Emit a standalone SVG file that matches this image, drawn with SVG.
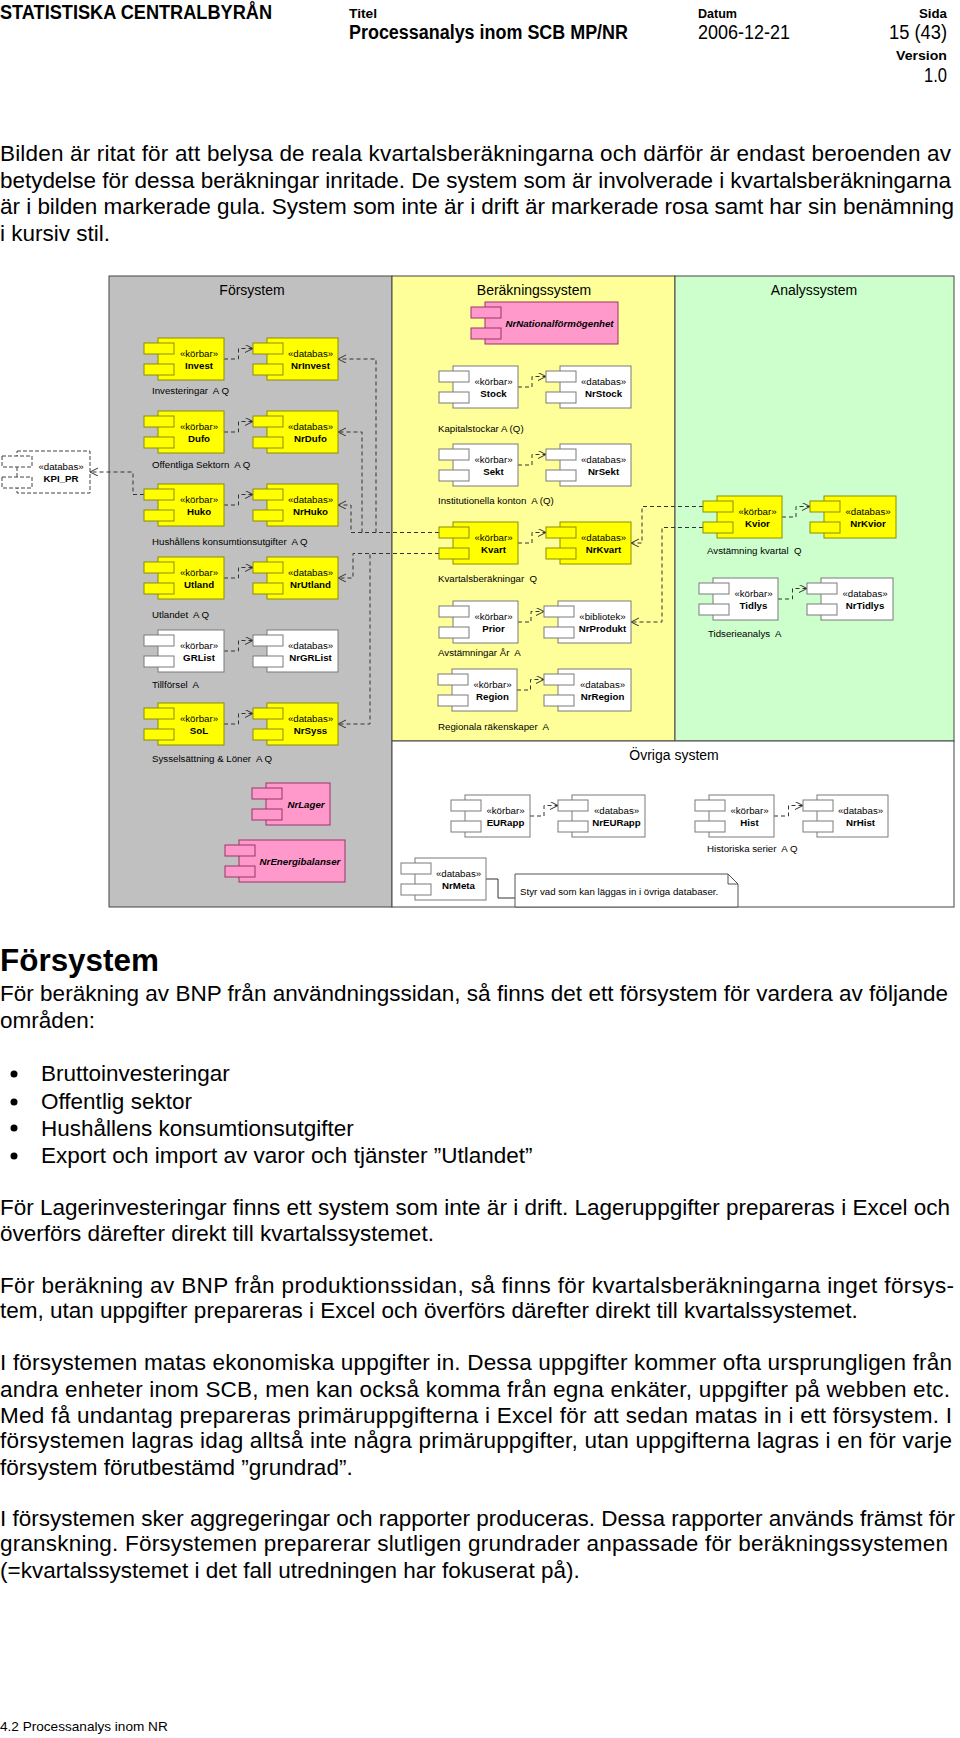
<svg xmlns="http://www.w3.org/2000/svg" width="960" height="1738" viewBox="0 0 960 1738">
<defs>
<marker id="ah" markerUnits="userSpaceOnUse" markerWidth="10" markerHeight="10" refX="8" refY="4" orient="auto">
<path d="M0,0 L8,4 L0,8" fill="none" stroke="#333" stroke-width="1"/>
</marker>
<style>
text{font-family:"Liberation Sans",Arial,sans-serif;fill:#000}
.hb{font-weight:bold}
.st{font-size:9.7px;text-anchor:middle}
.nm{font-size:9.7px;font-weight:bold;text-anchor:middle}
.ni{font-size:9.7px;font-weight:bold;font-style:italic;text-anchor:middle}
.lb{font-size:9.7px;white-space:pre}
.pt{font-size:14px;text-anchor:middle}
.bd{font-size:22.5px}
.y{fill:#FFFF00;stroke:#8C8C00;stroke-width:1}
.w{fill:#FFFFFF;stroke:#7A7A7A;stroke-width:1}
.p{fill:#FF99CC;stroke:#993366;stroke-width:1}
.k{fill:#FFFFFF;stroke:#444;stroke-width:1;stroke-dasharray:4,2}
.c{fill:none;stroke:#333;stroke-width:1;stroke-dasharray:4,3;marker-end:url(#ah)}
.pan{stroke:#444;stroke-width:1}
</style>
</defs>
<rect width="960" height="1738" fill="#fff"/>

<g id="header">
<text x="0" y="19" class="hb" font-size="20" textLength="272" lengthAdjust="spacingAndGlyphs">STATISTISKA CENTRALBYRÅN</text>
<text x="349" y="17.5" class="hb" font-size="12.3" textLength="28" lengthAdjust="spacingAndGlyphs">Titel</text>
<text x="349" y="39" class="hb" font-size="20" textLength="279" lengthAdjust="spacingAndGlyphs">Processanalys inom SCB MP/NR</text>
<text x="698" y="17.5" class="hb" font-size="12.3" textLength="39" lengthAdjust="spacingAndGlyphs">Datum</text>
<text x="698" y="39" font-size="20" textLength="92" lengthAdjust="spacingAndGlyphs">2006-12-21</text>
<text x="947" y="17.5" class="hb" font-size="12.3" text-anchor="end" textLength="28" lengthAdjust="spacingAndGlyphs">Sida</text>
<text x="947" y="39" font-size="20" text-anchor="end" textLength="58" lengthAdjust="spacingAndGlyphs">15 (43)</text>
<text x="947" y="60" class="hb" font-size="12.3" text-anchor="end" textLength="51" lengthAdjust="spacingAndGlyphs">Version</text>
<text x="947" y="82" font-size="20" text-anchor="end" textLength="23" lengthAdjust="spacingAndGlyphs">1.0</text>
</g>

<g id="intro">
<text class="bd" x="0" y="161" textLength="951" lengthAdjust="spacing">Bilden är ritat för att belysa de reala kvartalsberäkningarna och därför är endast beroenden av</text>
<text class="bd" x="0" y="187.5" textLength="951" lengthAdjust="spacing">betydelse för dessa beräkningar inritade. De system som är involverade i kvartalsberäkningarna</text>
<text class="bd" x="0" y="214" textLength="954" lengthAdjust="spacing">är i bilden markerade gula. System som inte är i drift är markerade rosa samt har sin benämning</text>
<text class="bd" x="0" y="240.5">i kursiv stil.</text>
</g>

<g id="panels">
<rect class="pan" x="109" y="276" width="283" height="631" fill="#C0C0C0"/>
<rect class="pan" x="392" y="276" width="283" height="465" fill="#FFFF99"/>
<rect class="pan" x="675" y="276" width="279" height="465" fill="#CCFFCC"/>
<rect class="pan" x="392" y="741" width="562" height="166" fill="#FFFFFF"/>
<text class="pt" x="252" y="295">Försystem</text>
<text class="pt" x="534" y="295">Beräkningssystem</text>
<text class="pt" x="814" y="295">Analyssystem</text>
<text class="pt" x="674" y="760">Övriga system</text>
</g>

<g id="labels">
<text class="lb" x="152" y="394" xml:space="preserve">Investeringar  A Q</text>
<text class="lb" x="152" y="468" xml:space="preserve">Offentliga Sektorn  A Q</text>
<text class="lb" x="152" y="545" xml:space="preserve">Hushållens konsumtionsutgifter  A Q</text>
<text class="lb" x="152" y="618" xml:space="preserve">Utlandet  A Q</text>
<text class="lb" x="152" y="688" xml:space="preserve">Tillförsel  A</text>
<text class="lb" x="152" y="762" xml:space="preserve">Sysselsättning &amp; Löner  A Q</text>
<text class="lb" x="438" y="431.5" xml:space="preserve">Kapitalstockar A (Q)</text>
<text class="lb" x="438" y="503.5" xml:space="preserve">Institutionella konton  A (Q)</text>
<text class="lb" x="438" y="581.5" xml:space="preserve">Kvartalsberäkningar  Q</text>
<text class="lb" x="438" y="655.5" xml:space="preserve">Avstämningar År  A</text>
<text class="lb" x="438" y="729.5" xml:space="preserve">Regionala räkenskaper  A</text>
<text class="lb" x="707" y="553.5" xml:space="preserve">Avstämning kvartal  Q</text>
<text class="lb" x="708" y="636.5" xml:space="preserve">Tidserieanalys  A</text>
<text class="lb" x="707" y="851.5" xml:space="preserve">Historiska serier  A Q</text>
</g>

<g id="connectors">
<path class="c" d="M224,359 H238.5 V348.5 H253"/>
<path class="c" d="M224,432 H238.5 V421.5 H253"/>
<path class="c" d="M224,505 H238.5 V494.5 H253"/>
<path class="c" d="M224,578 H238.5 V567.5 H253"/>
<path class="c" d="M224,651 H238.5 V640.5 H253"/>
<path class="c" d="M224,724 H238.5 V713.5 H253"/>
<path class="c" d="M518,387 H532 V376.5 H546"/>
<path class="c" d="M518,465 H532 V454.5 H546"/>
<path class="c" d="M518,543 H532 V532.5 H546"/>
<path class="c" d="M518,622 H531 V611.5 H544"/>
<path class="c" d="M517,690 H530.5 V679.5 H544"/>
<path class="c" d="M782,517 H796 V506.5 H810"/>
<path class="c" d="M778,599 H792.5 V588.5 H807"/>
<path class="c" d="M530,816 H544 V805.5 H558"/>
<path class="c" d="M774,816 H788.5 V805.5 H803"/>
<path class="c" d="M439,532.5 H376 V359 H338"/>
<path class="c" d="M439,532.5 H362 V432 H338"/>
<path class="c" d="M439,532.5 H351 V505 H338"/>
<path class="c" d="M439,553.5 H353 V578 H338"/>
<path class="c" d="M439,553.5 H370 V724 H338"/>
<path class="c" d="M144,494.5 H133 V472 H90"/>
<path class="c" d="M703,506.5 H642 V543 H631"/>
<path class="c" d="M703,527.5 H662 V622 H631"/>
<path d="M486,879 H498 V898 H515" fill="none" stroke="#333" stroke-width="1"/>
</g>

<g id="Invest"><rect class="y" x="158" y="338" width="66" height="42"/><rect class="y" x="144" y="343" width="30" height="11"/><rect class="y" x="144" y="364" width="30" height="11"/><text class="st" x="199" y="357">«körbar»</text><text class="nm" x="199" y="369">Invest</text></g>
<g id="NrInvest"><rect class="y" x="267" y="338" width="71" height="42"/><rect class="y" x="253" y="343" width="30" height="11"/><rect class="y" x="253" y="364" width="30" height="11"/><text class="st" x="310.5" y="357">«databas»</text><text class="nm" x="310.5" y="369">NrInvest</text></g>
<g id="Dufo"><rect class="y" x="158" y="411" width="66" height="42"/><rect class="y" x="144" y="416" width="30" height="11"/><rect class="y" x="144" y="437" width="30" height="11"/><text class="st" x="199" y="430">«körbar»</text><text class="nm" x="199" y="442">Dufo</text></g>
<g id="NrDufo"><rect class="y" x="267" y="411" width="71" height="42"/><rect class="y" x="253" y="416" width="30" height="11"/><rect class="y" x="253" y="437" width="30" height="11"/><text class="st" x="310.5" y="430">«databas»</text><text class="nm" x="310.5" y="442">NrDufo</text></g>
<g id="Huko"><rect class="y" x="158" y="484" width="66" height="42"/><rect class="y" x="144" y="489" width="30" height="11"/><rect class="y" x="144" y="510" width="30" height="11"/><text class="st" x="199" y="503">«körbar»</text><text class="nm" x="199" y="515">Huko</text></g>
<g id="NrHuko"><rect class="y" x="267" y="484" width="71" height="42"/><rect class="y" x="253" y="489" width="30" height="11"/><rect class="y" x="253" y="510" width="30" height="11"/><text class="st" x="310.5" y="503">«databas»</text><text class="nm" x="310.5" y="515">NrHuko</text></g>
<g id="Utland"><rect class="y" x="158" y="557" width="66" height="42"/><rect class="y" x="144" y="562" width="30" height="11"/><rect class="y" x="144" y="583" width="30" height="11"/><text class="st" x="199" y="576">«körbar»</text><text class="nm" x="199" y="588">Utland</text></g>
<g id="NrUtland"><rect class="y" x="267" y="557" width="71" height="42"/><rect class="y" x="253" y="562" width="30" height="11"/><rect class="y" x="253" y="583" width="30" height="11"/><text class="st" x="310.5" y="576">«databas»</text><text class="nm" x="310.5" y="588">NrUtland</text></g>
<g id="GRList"><rect class="w" x="158" y="630" width="66" height="42"/><rect class="w" x="144" y="635" width="30" height="11"/><rect class="w" x="144" y="656" width="30" height="11"/><text class="st" x="199" y="649">«körbar»</text><text class="nm" x="199" y="661">GRList</text></g>
<g id="NrGRList"><rect class="w" x="267" y="630" width="71" height="42"/><rect class="w" x="253" y="635" width="30" height="11"/><rect class="w" x="253" y="656" width="30" height="11"/><text class="st" x="310.5" y="649">«databas»</text><text class="nm" x="310.5" y="661">NrGRList</text></g>
<g id="SoL"><rect class="y" x="158" y="703" width="66" height="42"/><rect class="y" x="144" y="708" width="30" height="11"/><rect class="y" x="144" y="729" width="30" height="11"/><text class="st" x="199" y="722">«körbar»</text><text class="nm" x="199" y="734">SoL</text></g>
<g id="NrSyss"><rect class="y" x="267" y="703" width="71" height="42"/><rect class="y" x="253" y="708" width="30" height="11"/><rect class="y" x="253" y="729" width="30" height="11"/><text class="st" x="310.5" y="722">«databas»</text><text class="nm" x="310.5" y="734">NrSyss</text></g>
<g id="KPI_PR"><rect class="k" x="17" y="451" width="73" height="42"/><rect class="k" x="2" y="456" width="30" height="11"/><rect class="k" x="2" y="477" width="30" height="11"/><text class="st" x="61" y="470">«databas»</text><text class="nm" x="61" y="482">KPI_PR</text></g>
<g id="NrLager"><rect class="p" x="266" y="783" width="64" height="42"/><rect class="p" x="252" y="788" width="30" height="11"/><rect class="p" x="252" y="809" width="30" height="11"/><text class="ni" x="306" y="808">NrLager</text></g>
<g id="NrEnergibalanser"><rect class="p" x="239" y="840" width="106" height="42"/><rect class="p" x="225" y="845" width="30" height="11"/><rect class="p" x="225" y="866" width="30" height="11"/><text class="ni" x="300" y="865">NrEnergibalanser</text></g>

<g id="NrNationalformogenhet"><rect class="p" x="485" y="302" width="133" height="42"/><rect class="p" x="471" y="307" width="30" height="11"/><rect class="p" x="471" y="328" width="30" height="11"/><text class="ni" x="559.5" y="327">NrNationalförmögenhet</text></g>
<g id="Stock"><rect class="w" x="453" y="366" width="65" height="42"/><rect class="w" x="439" y="371" width="30" height="11"/><rect class="w" x="439" y="392" width="30" height="11"/><text class="st" x="493.5" y="385">«körbar»</text><text class="nm" x="493.5" y="397">Stock</text></g>
<g id="NrStock"><rect class="w" x="560" y="366" width="71" height="42"/><rect class="w" x="546" y="371" width="30" height="11"/><rect class="w" x="546" y="392" width="30" height="11"/><text class="st" x="603.5" y="385">«databas»</text><text class="nm" x="603.5" y="397">NrStock</text></g>
<g id="Sekt"><rect class="w" x="453" y="444" width="65" height="42"/><rect class="w" x="439" y="449" width="30" height="11"/><rect class="w" x="439" y="470" width="30" height="11"/><text class="st" x="493.5" y="463">«körbar»</text><text class="nm" x="493.5" y="475">Sekt</text></g>
<g id="NrSekt"><rect class="w" x="560" y="444" width="71" height="42"/><rect class="w" x="546" y="449" width="30" height="11"/><rect class="w" x="546" y="470" width="30" height="11"/><text class="st" x="603.5" y="463">«databas»</text><text class="nm" x="603.5" y="475">NrSekt</text></g>
<g id="Kvart"><rect class="y" x="453" y="522" width="65" height="42"/><rect class="y" x="439" y="527" width="30" height="11"/><rect class="y" x="439" y="548" width="30" height="11"/><text class="st" x="493.5" y="541">«körbar»</text><text class="nm" x="493.5" y="553">Kvart</text></g>
<g id="NrKvart"><rect class="y" x="560" y="522" width="71" height="42"/><rect class="y" x="546" y="527" width="30" height="11"/><rect class="y" x="546" y="548" width="30" height="11"/><text class="st" x="603.5" y="541">«databas»</text><text class="nm" x="603.5" y="553">NrKvart</text></g>
<g id="Prior"><rect class="w" x="453" y="601" width="65" height="42"/><rect class="w" x="439" y="606" width="30" height="11"/><rect class="w" x="439" y="627" width="30" height="11"/><text class="st" x="493.5" y="620">«körbar»</text><text class="nm" x="493.5" y="632">Prior</text></g>
<g id="NrProdukt"><rect class="w" x="558" y="601" width="73" height="42"/><rect class="w" x="544" y="606" width="30" height="11"/><rect class="w" x="544" y="627" width="30" height="11"/><text class="st" x="602.5" y="620">«bibliotek»</text><text class="nm" x="602.5" y="632">NrProdukt</text></g>
<g id="Region"><rect class="w" x="452" y="669" width="65" height="42"/><rect class="w" x="438" y="674" width="30" height="11"/><rect class="w" x="438" y="695" width="30" height="11"/><text class="st" x="492.5" y="688">«körbar»</text><text class="nm" x="492.5" y="700">Region</text></g>
<g id="NrRegion"><rect class="w" x="558" y="669" width="73" height="42"/><rect class="w" x="544" y="674" width="30" height="11"/><rect class="w" x="544" y="695" width="30" height="11"/><text class="st" x="602.5" y="688">«databas»</text><text class="nm" x="602.5" y="700">NrRegion</text></g>

<g id="Kvior"><rect class="y" x="717" y="496" width="65" height="42"/><rect class="y" x="703" y="501" width="30" height="11"/><rect class="y" x="703" y="522" width="30" height="11"/><text class="st" x="757.5" y="515">«körbar»</text><text class="nm" x="757.5" y="527">Kvior</text></g>
<g id="NrKvior"><rect class="y" x="824" y="496" width="72" height="42"/><rect class="y" x="810" y="501" width="30" height="11"/><rect class="y" x="810" y="522" width="30" height="11"/><text class="st" x="868" y="515">«databas»</text><text class="nm" x="868" y="527">NrKvior</text></g>
<g id="Tidlys"><rect class="w" x="713" y="578" width="65" height="42"/><rect class="w" x="699" y="583" width="30" height="11"/><rect class="w" x="699" y="604" width="30" height="11"/><text class="st" x="753.5" y="597">«körbar»</text><text class="nm" x="753.5" y="609">Tidlys</text></g>
<g id="NrTidlys"><rect class="w" x="821" y="578" width="72" height="42"/><rect class="w" x="807" y="583" width="30" height="11"/><rect class="w" x="807" y="604" width="30" height="11"/><text class="st" x="865" y="597">«databas»</text><text class="nm" x="865" y="609">NrTidlys</text></g>

<g id="EURapp"><rect class="w" x="465" y="795" width="65" height="42"/><rect class="w" x="451" y="800" width="30" height="11"/><rect class="w" x="451" y="821" width="30" height="11"/><text class="st" x="505.5" y="814">«körbar»</text><text class="nm" x="505.5" y="826">EURapp</text></g>
<g id="NrEURapp"><rect class="w" x="572" y="795" width="73" height="42"/><rect class="w" x="558" y="800" width="30" height="11"/><rect class="w" x="558" y="821" width="30" height="11"/><text class="st" x="616.5" y="814">«databas»</text><text class="nm" x="616.5" y="826">NrEURapp</text></g>
<g id="Hist"><rect class="w" x="709" y="795" width="65" height="42"/><rect class="w" x="695" y="800" width="30" height="11"/><rect class="w" x="695" y="821" width="30" height="11"/><text class="st" x="749.5" y="814">«körbar»</text><text class="nm" x="749.5" y="826">Hist</text></g>
<g id="NrHist"><rect class="w" x="817" y="795" width="71" height="42"/><rect class="w" x="803" y="800" width="30" height="11"/><rect class="w" x="803" y="821" width="30" height="11"/><text class="st" x="860.5" y="814">«databas»</text><text class="nm" x="860.5" y="826">NrHist</text></g>
<g id="NrMeta"><rect class="w" x="415" y="858" width="71" height="42"/><rect class="w" x="401" y="863" width="30" height="11"/><rect class="w" x="401" y="884" width="30" height="11"/><text class="st" x="458.5" y="877">«databas»</text><text class="nm" x="458.5" y="889">NrMeta</text></g>
<g id="note"><path d="M515,874 H728 L738,884 V907 H515 Z" fill="#fff" stroke="#555" stroke-width="1"/><path d="M728,874 V884 H738" fill="none" stroke="#555" stroke-width="1"/><text class="lb" x="520" y="895">Styr vad som kan läggas in i övriga databaser.</text></g>

<g id="bodytext">
<text x="0" y="971" class="hb" font-size="31" textLength="159" lengthAdjust="spacingAndGlyphs">Försystem</text>
<text class="bd" x="0" y="1001" textLength="948" lengthAdjust="spacing">För beräkning av BNP från användningssidan, så finns det ett försystem för vardera av följande</text>
<text class="bd" x="0" y="1028">områden:</text>
<circle cx="14" cy="1074" r="3.5" fill="#000"/>
<circle cx="14" cy="1102" r="3.5" fill="#000"/>
<circle cx="14" cy="1128" r="3.5" fill="#000"/>
<circle cx="14" cy="1156" r="3.5" fill="#000"/>
<text class="bd" x="41" y="1081">Bruttoinvesteringar</text>
<text class="bd" x="41" y="1109">Offentlig sektor</text>
<text class="bd" x="41" y="1135.5">Hushållens konsumtionsutgifter</text>
<text class="bd" x="41" y="1163">Export och import av varor och tjänster ”Utlandet”</text>
<text class="bd" x="0" y="1215" textLength="950" lengthAdjust="spacing">För Lagerinvesteringar finns ett system som inte är i drift. Lageruppgifter prepareras i Excel och</text>
<text class="bd" x="0" y="1241">överförs därefter direkt till kvartalssystemet.</text>
<text class="bd" x="0" y="1293" textLength="954" lengthAdjust="spacing">För beräkning av BNP från produktionssidan, så finns för kvartalsberäkningarna inget försys-</text>
<text class="bd" x="0" y="1318">tem, utan uppgifter prepareras i Excel och överförs därefter direkt till kvartalssystemet.</text>
<text class="bd" x="0" y="1370" textLength="952" lengthAdjust="spacing">I försystemen matas ekonomiska uppgifter in. Dessa uppgifter kommer ofta ursprungligen från</text>
<text class="bd" x="0" y="1397" textLength="950" lengthAdjust="spacing">andra enheter inom SCB, men kan också komma från egna enkäter, uppgifter på webben etc.</text>
<text class="bd" x="0" y="1423" textLength="952" lengthAdjust="spacing">Med få undantag prepareras primäruppgifterna i Excel för att sedan matas in i ett försystem. I</text>
<text class="bd" x="0" y="1448" textLength="952" lengthAdjust="spacing">försystemen lagras idag alltså inte några primäruppgifter, utan uppgifterna lagras i en för varje</text>
<text class="bd" x="0" y="1475">försystem förutbestämd ”grundrad”.</text>
<text class="bd" x="0" y="1526" textLength="955" lengthAdjust="spacing">I försystemen sker aggregeringar och rapporter produceras. Dessa rapporter används främst för</text>
<text class="bd" x="0" y="1551" textLength="948" lengthAdjust="spacing">granskning. Försystemen preparerar slutligen grundrader anpassade för beräkningssystemen</text>
<text class="bd" x="0" y="1578">(=kvartalssystemet i det fall utredningen har fokuserat på).</text>
<text x="0" y="1731" font-size="13.6">4.2 Processanalys inom NR</text>
</g>
</svg>
